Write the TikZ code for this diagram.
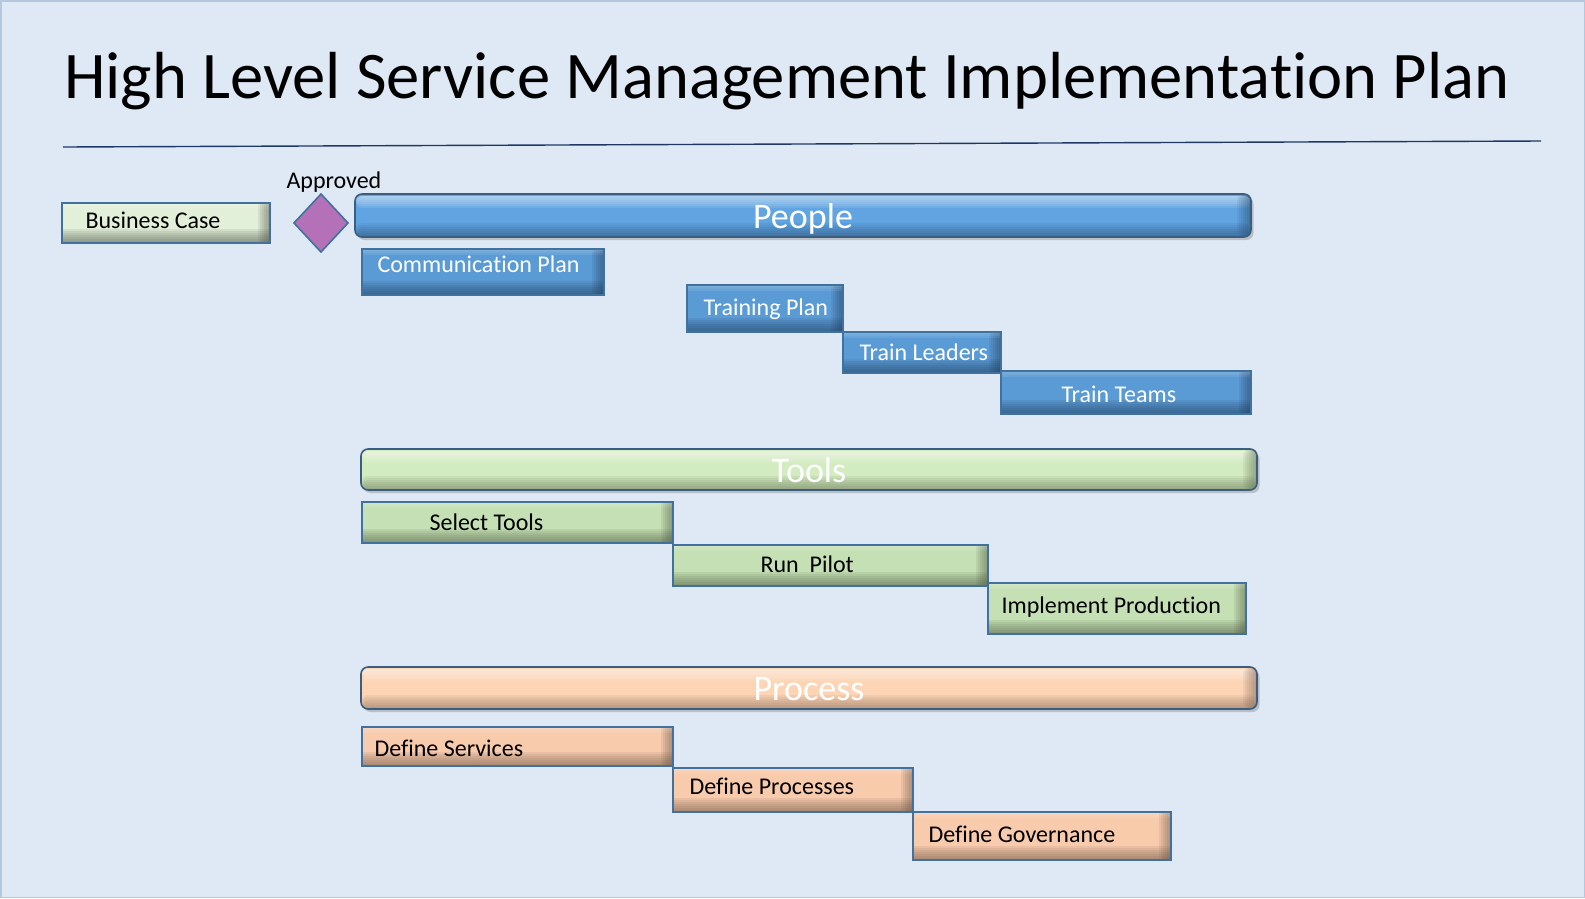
\documentclass[tikz,border=0pt]{standalone}
\usepackage{fontspec}
\setmainfont[Ligatures=NoCommon]{Carlito}
\usetikzlibrary{shadows,positioning}

\definecolor{slidebg}{HTML}{DEE9F5}
\definecolor{slideedge}{HTML}{B4C7DC}
\definecolor{rulenavy}{HTML}{1F3864}
\definecolor{taskedge}{HTML}{41719C}
\definecolor{baredge}{HTML}{3B5E80}
\definecolor{bluetask}{HTML}{5B9BD5}
\definecolor{bluedark}{HTML}{22405E}
\definecolor{greentask}{HTML}{C5E0B4}
\definecolor{greendark}{HTML}{4F5A45}
\definecolor{orangetask}{HTML}{F8CBAD}
\definecolor{orangedark}{HTML}{6E5444}
\definecolor{casefill}{HTML}{E2EFD9}
\definecolor{casedark}{HTML}{4F5548}
\definecolor{approvedfill}{HTML}{B471B8}
\definecolor{peoplebar}{HTML}{61A4E2}
\definecolor{peopledark}{HTML}{1F3E5C}
\definecolor{toolsbar}{HTML}{D3EBC0}
\definecolor{toolsdark}{HTML}{4C5A40}
\definecolor{processbar}{HTML}{FDD5B5}
\definecolor{processdark}{HTML}{6B5444}

\begin{document}
\begin{tikzpicture}[x=1pt,y=-1pt,
    bevel/.style 2 args={fill=#1, path picture={
        \foreach \k in {2,4,...,14}
            \fill[#2, opacity=0.1] ([yshift=\k pt]path picture bounding box.south west) rectangle (path picture bounding box.south east);
        \foreach \k in {2,4,...,12}
            \fill[#2, opacity=0.1] ([xshift=-\k pt]path picture bounding box.south east) rectangle (path picture bounding box.north east);
        \foreach \k in {2,4,6}
            \fill[white, opacity=0.08] (path picture bounding box.north west) rectangle ([yshift=-\k pt]path picture bounding box.north east);
    }},
    task/.style={draw=taskedge, line width=1.6pt},
    bar/.style 2 args={draw=baredge, line width=1.6pt, rounded corners=7pt, fill=#1,
        drop shadow={opacity=0.4, shadow xshift=2.5pt, shadow yshift=-3pt},
        path picture={
        \foreach \k in {4,6,...,14}
            \fill[white, opacity=0.1] ([yshift=-2pt]path picture bounding box.north west) rectangle ([yshift=-\k pt]path picture bounding box.north east);
        \foreach \k in {2,4,...,14}
            \fill[#2, opacity=0.08] ([yshift=\k pt]path picture bounding box.south west) rectangle (path picture bounding box.south east);
        \foreach \k in {2,4,...,14}
            \fill[#2, opacity=0.08] ([xshift=-\k pt]path picture bounding box.south east) rectangle (path picture bounding box.north east);
    }},
    tasktext/.style={anchor=base west, font=\fontsize{24}{28}\selectfont},
    bartext/.style={anchor=base, text=white, font=\fontsize{36}{40}\selectfont},
]
\useasboundingbox (0,0) rectangle (1585,898);
\filldraw[fill=slidebg, draw=slideedge, line width=1.5pt] (0.75,0.75) rectangle (1584.25,897.25);

% title and rule
\node[anchor=base west, inner sep=0pt, font=\fontsize{66.6}{70}\selectfont] (title) at (64,98) {High Level Service Management Implementation Plan};
\draw[rulenavy, line width=1.4pt] (63,147) -- (1541,141);

% business case and milestone
\filldraw[task, bevel={casefill}{casedark}] (62,203) rectangle (270,243);
\node[tasktext] (case) at (82,228) {Business Case};
\filldraw[fill=approvedfill, draw=taskedge, line width=1.6pt] (321,194) -- (348,223) -- (321,252) -- (294,223) -- cycle;
\node[tasktext] (approved) at (283,188) {Approved};

% people
\filldraw[bar={peoplebar}{peopledark}] (355,194) rectangle (1251,237);
\node[bartext] (people) at (803,228) {People};
\filldraw[task, bevel={bluetask}{bluedark}] (362,249) rectangle (604,295);
\node[tasktext, text=white] (comms) at (374,272) {Communication Plan};
\filldraw[task, bevel={bluetask}{bluedark}] (687,285) rectangle (843,332);
\node[tasktext, text=white] (trainplan) at (700,315) {Training Plan};
\filldraw[task, bevel={bluetask}{bluedark}] (843,332) rectangle (1001,373);
\node[tasktext, text=white] (leaders) at (856,360) {Train Leaders};
\filldraw[task, bevel={bluetask}{bluedark}] (1001,371) rectangle (1251,414);
\node[tasktext, text=white] (teams) at (1058,402) {Train Teams};

% tools
\filldraw[bar={toolsbar}{toolsdark}] (361,449) rectangle (1257,490);
\node[bartext] (tools) at (809,482) {Tools};
\filldraw[task, bevel={greentask}{greendark}] (362,502) rectangle (673,543);
\node[tasktext] (select) at (426,530) {Select Tools};
\filldraw[task, bevel={greentask}{greendark}] (673,545) rectangle (988,586);
\node[tasktext] (pilot) at (757,572) {Run\ \ Pilot};
\filldraw[task, bevel={greentask}{greendark}] (988,583) rectangle (1246,634);
\node[tasktext] (production) at (998,613) {Implement Production};

% process
\filldraw[bar={processbar}{processdark}] (361,667) rectangle (1257,709);
\node[bartext] (process) at (809,700) {Process};
\filldraw[task, bevel={orangetask}{orangedark}] (362,727) rectangle (673,766);
\node[tasktext] (services) at (371,756) {Define Services};
\filldraw[task, bevel={orangetask}{orangedark}] (673,768) rectangle (913,812);
\node[tasktext] (processes) at (686,794) {Define Processes};
\filldraw[task, bevel={orangetask}{orangedark}] (913,812) rectangle (1171,860);
\node[tasktext] (governance) at (925,842) {Define Governance};
\end{tikzpicture}
\end{document}
